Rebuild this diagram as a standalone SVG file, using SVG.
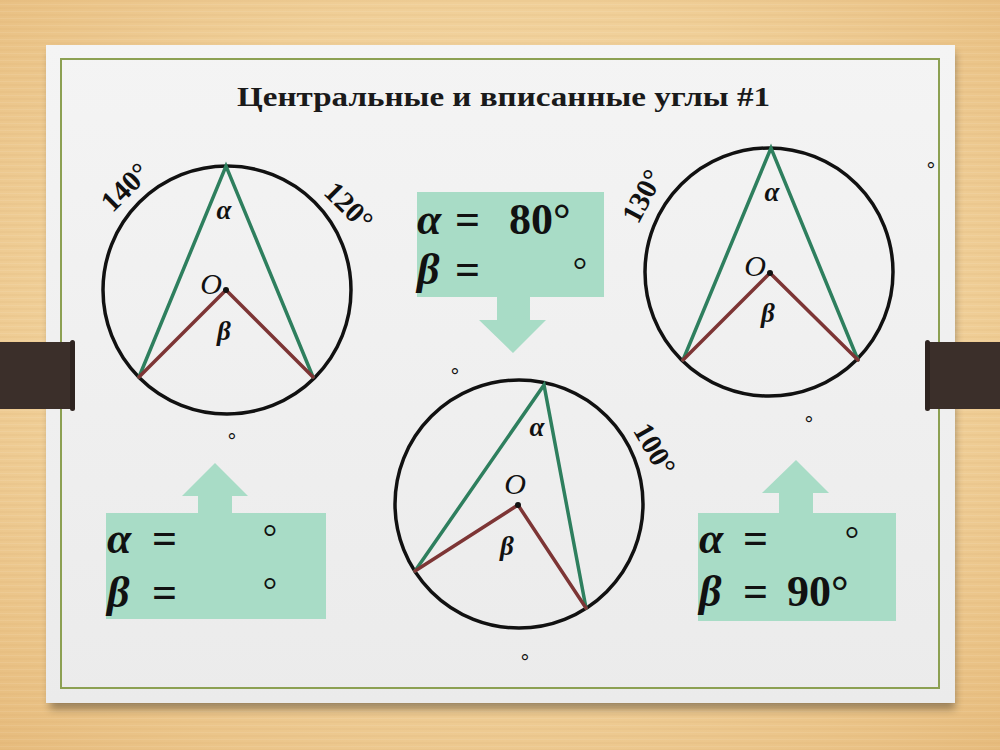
<svg xmlns="http://www.w3.org/2000/svg" width="1000" height="750" viewBox="0 0 1000 750">
  <defs>
    <radialGradient id="wood" cx="0.5" cy="0.45" r="0.75">
      <stop offset="0" stop-color="#f7e0b6"/>
      <stop offset="0.6" stop-color="#f0cf98"/>
      <stop offset="1" stop-color="#e6bb7c"/>
    </radialGradient>
    <pattern id="grain" width="1000" height="7" patternUnits="userSpaceOnUse">
      <rect width="1000" height="2" fill="#c89a5a" opacity="0.08"/>
      <rect y="4" width="1000" height="1" fill="#ffffff" opacity="0.08"/>
    </pattern>
    <linearGradient id="card" x1="0" y1="0" x2="0" y2="1">
      <stop offset="0" stop-color="#f4f4f4"/>
      <stop offset="1" stop-color="#ebebeb"/>
    </linearGradient>
    <filter id="shadow" x="-10%" y="-10%" width="120%" height="130%">
      <feGaussianBlur stdDeviation="4"/>
    </filter>
  </defs>
  <style>
    .circ { fill: none; stroke: #111; stroke-width: 3.5; }
    .grn { stroke: #2e7f5e; stroke-width: 3.5; fill: none; stroke-linecap: round; }
    .brn { stroke: #7d3535; stroke-width: 3.5; fill: none; stroke-linecap: round; }
    .dot { fill: #111; }
    .greek { font-weight: bold; font-style: italic; font-size: 27px; fill: #111; text-anchor: middle; }
    .olab { font-style: italic; font-size: 30px; fill: #111; text-anchor: middle; }
    .arc { font-weight: bold; font-size: 29px; fill: #111; text-anchor: middle; dominant-baseline: central; }
    .box { fill: #a8dcc6; }
    .big { font-weight: bold; font-size: 44px; fill: #111; }
    .bigi { font-style: italic; }
    .ring { font-size: 36px; fill: #111; text-anchor: middle; }
    .sring { font-size: 22px; fill: #111; text-anchor: middle; }
    .title { font-weight: bold; font-size: 27px; fill: #1a1a1a; }
  </style>

  <!-- background -->
  <rect width="1000" height="750" fill="url(#wood)"/>
  <rect width="1000" height="750" fill="url(#grain)"/>

  <!-- card -->
  <rect x="50" y="52" width="905" height="657" fill="#000" opacity="0.35" filter="url(#shadow)"/>
  <rect x="46" y="45" width="909" height="658" fill="url(#card)"/>
  <rect x="61" y="59" width="878" height="629" fill="none" stroke="#8ca052" stroke-width="2"/>

  <!-- straps -->
  <g id="strap-left">
    <rect x="0" y="342" width="73" height="67" fill="#3b2f2a"/>
    <rect x="70" y="340" width="5" height="71" rx="2.5" fill="#2e2420"/>
  </g>
  <g id="strap-right">
    <rect x="927" y="342" width="73" height="67" fill="#3b2f2a"/>
    <rect x="925" y="340" width="5" height="71" rx="2.5" fill="#2e2420"/>
  </g>

  <g id="title">
    <text class="title" font-family="'Liberation Serif', 'Times New Roman', Times, serif" x="237" y="106" textLength="533" lengthAdjust="spacingAndGlyphs">Центральные и вписанные углы #1</text>
  </g>

  <g font-family="'Liberation Serif', 'Times New Roman', Times, serif">
  <!-- circle 1 -->
  <g id="circle-1">
    <circle class="circ" cx="227" cy="290" r="124"/>
    <polyline class="grn" points="139,377 226,166 313,377"/>
    <polyline class="brn" points="139,377 226,290 313,377"/>
    <circle class="dot" cx="226" cy="290" r="3"/>
    <text class="olab" x="211" y="294">O</text>
    <text class="greek" x="224" y="219">α</text>
    <text class="greek" x="224" y="340">β</text>
    <text class="arc" transform="translate(125,187) rotate(-45)">140°</text>
    <text class="arc" transform="translate(349,206) rotate(45)">120°</text>
  </g>

  <!-- circle 2 -->
  <g id="circle-2">
    <circle class="circ" cx="769" cy="272" r="124"/>
    <polyline class="grn" points="683,360 771,148 858,360"/>
    <polyline class="brn" points="683,360 770,273 858,360"/>
    <circle class="dot" cx="770" cy="273" r="3"/>
    <text class="olab" x="755" y="276">O</text>
    <text class="greek" x="772" y="201">α</text>
    <text class="greek" x="768" y="322">β</text>
    <text class="arc" transform="translate(642,196) rotate(-62)">130°</text>
  </g>

  <!-- circle 3 -->
  <g id="circle-3">
    <circle class="circ" cx="519" cy="504" r="124"/>
    <polyline class="grn" points="415,571 544,385 586,608"/>
    <polyline class="brn" points="415,571 518,505 586,608"/>
    <circle class="dot" cx="518" cy="505" r="3"/>
    <text class="olab" x="515" y="494">O</text>
    <text class="greek" x="537" y="436">α</text>
    <text class="greek" x="507" y="555">β</text>
    <text class="arc" transform="translate(655,449) rotate(60)">100°</text>
  </g>

  <!-- callout boxes with arrows -->
  <g id="box-top">
    <path class="box" d="M417,192 H604 V297 H530 V320 H546 L513,353 L479,320 H497 V297 H417 Z"/>
    <text class="big" y="234"><tspan class="bigi" x="417">α</tspan><tspan x="455">=</tspan><tspan x="509">80°</tspan></text>
    <text class="big" y="284"><tspan class="bigi" x="417">β</tspan><tspan x="455">=</tspan></text>
    <text class="ring" x="580" y="282">°</text>
  </g>

  <g id="box-left">
    <path class="box" d="M106,513 H198 V496 H182 L215,463 L248,496 H232 V513 H326 V619 H106 Z"/>
    <text class="big" y="553"><tspan class="bigi" x="107">α</tspan><tspan x="152">=</tspan></text>
    <text class="big" y="607"><tspan class="bigi" x="107">β</tspan><tspan x="152">=</tspan></text>
    <text class="ring" x="270" y="549">°</text>
    <text class="ring" x="270" y="602">°</text>
  </g>

  <g id="box-right">
    <path class="box" d="M698,513 H779 V493 H762 L796,460 L829,493 H813 V513 H896 V621 H698 Z"/>
    <text class="big" y="553"><tspan class="bigi" x="699">α</tspan><tspan x="743">=</tspan></text>
    <text class="big" y="606"><tspan class="bigi" x="699">β</tspan><tspan x="743">=</tspan><tspan x="787">90°</tspan></text>
    <text class="ring" x="852" y="551">°</text>
  </g>
  </g>

  <!-- stray degree marks -->
  <g id="marks" font-family="'Liberation Sans', Arial, sans-serif">
    <text class="sring" x="232" y="449">°</text>
    <text class="sring" x="455" y="384">°</text>
    <text class="sring" x="931" y="178">°</text>
    <text class="sring" x="809" y="432">°</text>
    <text class="sring" x="525" y="670">°</text>
  </g>

  <g id="connectors"/>
</svg>
